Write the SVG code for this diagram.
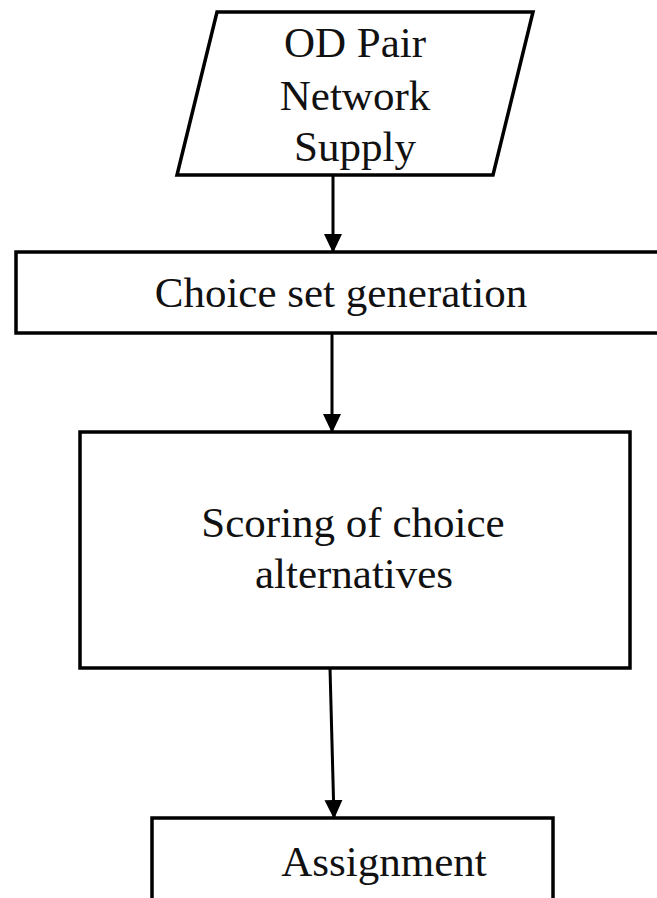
<svg xmlns="http://www.w3.org/2000/svg" width="657" height="898" viewBox="0 0 657 898">
<style>
.shape{fill:#fff;stroke:#000;stroke-width:3.5}
.lbl{font-family:"Liberation Serif","Times New Roman",serif;font-size:43px;fill:#111;text-anchor:middle}
.conn{stroke:#000;stroke-width:3;fill:none}
</style>
<defs>
<marker id="ah" markerUnits="userSpaceOnUse" markerWidth="20" markerHeight="22" refX="18" refY="9" orient="auto">
<path d="M0,0 L19,9 L0,18 Z" fill="#000"/>
</marker>
</defs>
<rect width="657" height="898" fill="#fff"/>
<g id="input">
<polygon class="shape" points="217,12 533,12 493,175 177,175"/>
<text class="lbl" x="355" y="57">OD Pair</text>
<text class="lbl" x="355" y="110">Network</text>
<text class="lbl" x="355" y="161">Supply</text>
</g>
<g id="choice-set">
<rect class="shape" x="16" y="252" width="650" height="81"/>
<text class="lbl" x="341" y="307">Choice set generation</text>
</g>
<g id="scoring">
<rect class="shape" x="80" y="432" width="550" height="236"/>
<text class="lbl" x="353" y="537">Scoring of choice</text>
<text class="lbl" x="354" y="588">alternatives</text>
</g>
<g id="assignment">
<rect class="shape" x="152" y="818" width="401" height="100"/>
<text class="lbl" x="384" y="876">Assignment</text>
</g>
<g id="connectors">
<line class="conn" x1="333" y1="175" x2="333" y2="252" marker-end="url(#ah)"/>
<line class="conn" x1="332" y1="333" x2="332" y2="432" marker-end="url(#ah)"/>
<line class="conn" x1="330" y1="668" x2="334" y2="818" marker-end="url(#ah)"/>
</g>
</svg>
